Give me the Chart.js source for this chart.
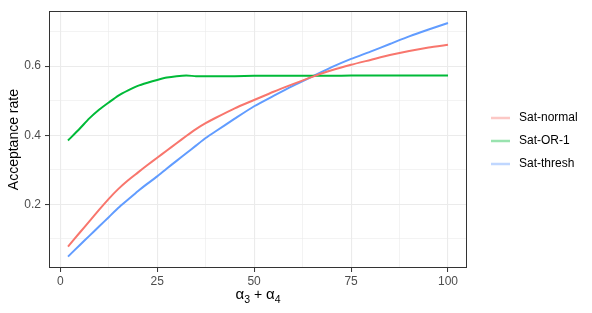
<!DOCTYPE html>
<html>
<head>
<meta charset="utf-8">
<script src="https://cdn.jsdelivr.net/npm/chart.js@4"></script>
<style>
  html, body { margin: 0; padding: 0; background: #fff; }
  #wrap { width: 592px; height: 313px; }
</style>
</head>
<body>
<div id="wrap"><canvas id="chart" width="592" height="313"></canvas></div>
<script>
// alpha3 + alpha4 values
var alphaSum  = [2, 5, 7.5, 10, 12.5, 15, 17.5, 20, 22.5, 25, 27.5, 30, 32.5, 35, 37.5, 40, 45, 50, 55, 60, 65, 70, 75, 80, 85, 90, 95, 100];
var satNormal = [0.078, 0.118, 0.151, 0.184, 0.216, 0.245, 0.270, 0.292, 0.314, 0.335, 0.356, 0.377, 0.398, 0.418, 0.435, 0.450, 0.478, 0.502, 0.526, 0.548, 0.569, 0.588, 0.604, 0.618, 0.632, 0.644, 0.654, 0.662];
var satOR1    = [0.385, 0.419, 0.449, 0.474, 0.495, 0.515, 0.530, 0.543, 0.552, 0.560, 0.567, 0.571, 0.573, 0.571, 0.571, 0.571, 0.571, 0.572, 0.572, 0.572, 0.572, 0.572, 0.573, 0.573, 0.573, 0.573, 0.573, 0.573];
var satThresh = [0.049, 0.082, 0.109, 0.136, 0.163, 0.190, 0.214, 0.238, 0.260, 0.281, 0.304, 0.326, 0.348, 0.370, 0.392, 0.411, 0.448, 0.484, 0.514, 0.543, 0.570, 0.597, 0.621, 0.642, 0.664, 0.686, 0.706, 0.725];

var seriesNames  = ['Sat-normal', 'Sat-OR-1', 'Sat-thresh'];
var seriesColors = ['#F8766D', '#00BA38', '#619CFF'];
var keyColors    = ['rgba(248,118,109,0.4)', 'rgba(0,186,56,0.4)', 'rgba(97,156,255,0.4)'];

var xMajor = [0, 25, 50, 75, 100];
var xMinor = [12.5, 37.5, 62.5, 87.5];
var yMajor = [0.2, 0.4, 0.6];
var yMinor = [0.1, 0.3, 0.5, 0.7];

var FONT = "'Liberation Sans', Arial, 'DejaVu Sans', sans-serif";

function pts(ys) {
    return alphaSum.map(function(x, i) { return { x: x, y: ys[i] }; });
}

function isMajor(list, v) {
    return list.some(function(m) { return Math.abs(m - v) < 1e-9; });
}

// panel border, x title with subscripts and legend drawn by hand (ggplot look)
var panelBits = {
    id: 'panelBits',
    afterDraw: function(chart) {
        var c = chart.ctx, a = chart.chartArea;
        c.save();
        c.strokeStyle = '#333333';
        c.lineWidth = 1;
        c.strokeRect(Math.round(a.left) + 0.5, Math.round(a.top) + 0.5,
                     Math.round(a.right - a.left) - 1, Math.round(a.bottom - a.top) - 1);

        // x axis title: alpha_3 + alpha_4
        var parts = [
            { t: 'α', size: 15, dy: 0 },
            { t: '3', size: 10.5, dy: 4 },
            { t: ' + ', size: 14, dy: 0 },
            { t: 'α', size: 15, dy: 0 },
            { t: '4', size: 10.5, dy: 4 }
        ];
        var total = 0;
        parts.forEach(function(p) {
            c.font = p.size + 'px ' + FONT;
            p.w = c.measureText(p.t).width;
            total += p.w;
        });
        var x0 = (a.left + a.right) / 2 - total / 2;
        c.fillStyle = '#000';
        c.textAlign = 'left';
        c.textBaseline = 'alphabetic';
        parts.forEach(function(p) {
            c.font = p.size + 'px ' + FONT;
            c.fillText(p.t, x0, 299 + p.dy);
            x0 += p.w;
        });

        // legend
        var ys = [118, 141, 164];
        c.font = '12px ' + FONT;
        c.textBaseline = 'middle';
        chart.data.datasets.forEach(function(ds, i) {
            c.strokeStyle = keyColors[i];
            c.lineWidth = 2.5;
            c.beginPath();
            c.moveTo(491, ys[i]);
            c.lineTo(510, ys[i]);
            c.stroke();
            c.fillStyle = '#000';
            c.fillText(ds.label, 519, ys[i]);
        });
        c.restore();
    }
};

var ctx = document.getElementById('chart').getContext('2d');
var chart = new Chart(ctx, {
    type: 'line',
    data: {
        datasets: [
            { label: seriesNames[0], data: pts(satNormal), borderColor: seriesColors[0] },
            { label: seriesNames[1], data: pts(satOR1), borderColor: seriesColors[1] },
            { label: seriesNames[2], data: pts(satThresh), borderColor: seriesColors[2] }
        ]
    },
    options: {
        responsive: false,
        animation: false,
        devicePixelRatio: 1,
        layout: { padding: { top: 7, right: 125, left: 0, bottom: 0 } },
        elements: {
            point: { radius: 0 },
            line: { borderWidth: 2, tension: 0.2, fill: false }
        },
        scales: {
            x: {
                type: 'linear',
                min: -2.9,
                max: 104.9,
                afterBuildTicks: function(s) {
                    s.ticks = xMajor.concat(xMinor).sort(function(a, b) { return a - b; })
                        .map(function(v) { return { value: v }; });
                },
                afterFit: function(s) { s.height = 45; },
                border: { display: false },
                grid: {
                    color: '#EBEBEB',
                    lineWidth: function(c) { return isMajor(xMajor, c.tick.value) ? 1.1 : 0.6; },
                    tickColor: function(c) { return isMajor(xMajor, c.tick.value) ? '#333333' : 'rgba(0,0,0,0)'; },
                    tickLength: 4,
                    tickWidth: 1
                },
                ticks: {
                    autoSkip: false,
                    maxRotation: 0,
                    padding: 2,
                    color: '#4D4D4D',
                    font: { family: FONT, size: 12 },
                    callback: function(v) { return isMajor(xMajor, v) ? String(v) : ''; }
                },
                title: { display: false }
            },
            y: {
                type: 'linear',
                min: 0.016,
                max: 0.759,
                afterBuildTicks: function(s) {
                    s.ticks = yMajor.concat(yMinor).sort(function(a, b) { return a - b; })
                        .map(function(v) { return { value: v }; });
                },
                afterFit: function(s) { s.width = 49; },
                border: { display: false },
                grid: {
                    color: '#EBEBEB',
                    lineWidth: function(c) { return isMajor(yMajor, c.tick.value) ? 1.1 : 0.6; },
                    tickColor: function(c) { return isMajor(yMajor, c.tick.value) ? '#333333' : 'rgba(0,0,0,0)'; },
                    tickLength: 4,
                    tickWidth: 1
                },
                ticks: {
                    autoSkip: false,
                    padding: 4,
                    color: '#4D4D4D',
                    font: { family: FONT, size: 12 },
                    callback: function(v) { return isMajor(yMajor, v) ? v.toFixed(1) : ''; }
                },
                title: {
                    display: true,
                    text: 'Acceptance rate',
                    color: '#000',
                    font: { family: FONT, size: 14 },
                    padding: { top: 6, bottom: 0 }
                }
            }
        },
        plugins: {
            legend: { display: false },
            tooltip: { enabled: false }
        }
    },
    plugins: [panelBits]
});
</script>
</body>
</html>
